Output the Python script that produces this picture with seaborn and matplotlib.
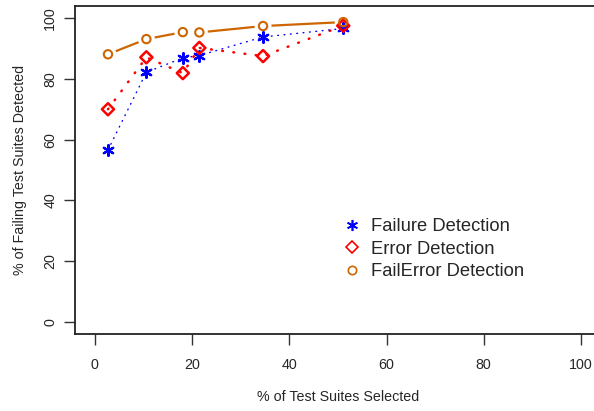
import matplotlib
matplotlib.use("Agg")
import matplotlib.pyplot as plt
import seaborn as sns
import pandas as pd
from matplotlib.lines import Line2D

# Data
pct_selected = [2.7, 10.6, 18.1, 21.5, 34.6, 51.1]
failure_detection = [56.6, 82.2, 86.9, 87.7, 93.8, 96.6]
error_detection = [70.0, 87.1, 81.9, 90.2, 87.5, 97.5]
failerror_detection = [88.1, 93.1, 95.4, 95.3, 97.4, 98.7]
series_names = ["Failure Detection", "Error Detection", "FailError Detection"]
x_ticks = [0, 20, 40, 60, 80, 100]
y_ticks = [0, 20, 40, 60, 80, 100]

sns.set_style("ticks")
plt.rcParams["font.family"] = ["Liberation Sans", "DejaVu Sans"]

BLUE = "#0000FF"
RED = "#FF0000"
ORANGE = "#CD6600"

fig = plt.figure(figsize=(5.94, 4.11), dpi=100)
ax = fig.add_axes([75.4 / 594, 1 - 334 / 411, (600.4 - 75.4) / 594, (334 - 6) / 411])

df = pd.DataFrame({"x": pct_selected, "fail": failure_detection,
                   "err": error_detection, "fe": failerror_detection})

# lines
sns.lineplot(data=df, x="x", y="fail", ax=ax, color=BLUE, lw=1.0,
             linestyle=(0, (0.6, 4.0)), dash_capstyle="round", sort=False)
sns.lineplot(data=df, x="x", y="err", ax=ax, color=RED, lw=1.8,
             linestyle=(0, (0.3, 4.2)), dash_capstyle="round", sort=False)
sns.lineplot(data=df, x="x", y="fe", ax=ax, color=ORANGE, lw=1.6, sort=False)
# white gaps around orange circles (type="b" style)
sns.scatterplot(data=df, x="x", y="fe", ax=ax, marker="o", s=150,
                color="white", edgecolor="none", zorder=3)

# markers
sns.scatterplot(data=df, x="x", y="fail", ax=ax, marker=(6, 2, 0), s=60,
                color=BLUE, linewidth=1.6, zorder=4)
sns.scatterplot(data=df, x="x", y="err", ax=ax, marker="D", s=38,
                facecolor="none", edgecolor=RED, linewidth=1.8, zorder=4)
sns.scatterplot(data=df, x="x", y="fe", ax=ax, marker="o", s=36,
                facecolor="none", edgecolor=ORANGE, linewidth=1.5, zorder=4)

ax.set_xlim(-4, 104)
ax.set_ylim(-4, 104)
ax.set_xticks(x_ticks)
ax.set_yticks(y_ticks)
ax.set_xticklabels([str(t) for t in x_ticks], fontsize=10.3)
ax.set_yticklabels([str(t) for t in y_ticks], fontsize=10.3, rotation=90, va="center")
ax.tick_params(axis="both", direction="out", length=8, width=1.0, color="#333333")
ax.tick_params(axis="x", pad=9)
ax.tick_params(axis="y", pad=5)
ax.set_xlabel("% of Test Suites Selected", fontsize=10.3, labelpad=13)
ax.set_ylabel("% of Failing Test Suites Detected", fontsize=10.3, labelpad=12)
for s in ["left", "bottom", "top", "right"]:
    ax.spines[s].set_visible(True)
    ax.spines[s].set_linewidth(1.3)
    ax.spines[s].set_color("#222222")

handles = [
    Line2D([], [], marker=(6, 2, 0), color=BLUE, lw=0, markersize=8, markeredgewidth=1.2),
    Line2D([], [], marker="D", color=RED, lw=0, markerfacecolor="none", markersize=6,
           markeredgewidth=1.2),
    Line2D([], [], marker="o", color=ORANGE, lw=0, markerfacecolor="none", markersize=6,
           markeredgewidth=1.2),
]
ax.legend(handles, series_names, loc="upper left", bbox_to_anchor=(0.496, 0.375),
          frameon=False, fontsize=13.2, handlelength=1.0, handletextpad=0.5,
          labelspacing=0.3, borderaxespad=0)

fig.savefig("out.png", dpi=100)
